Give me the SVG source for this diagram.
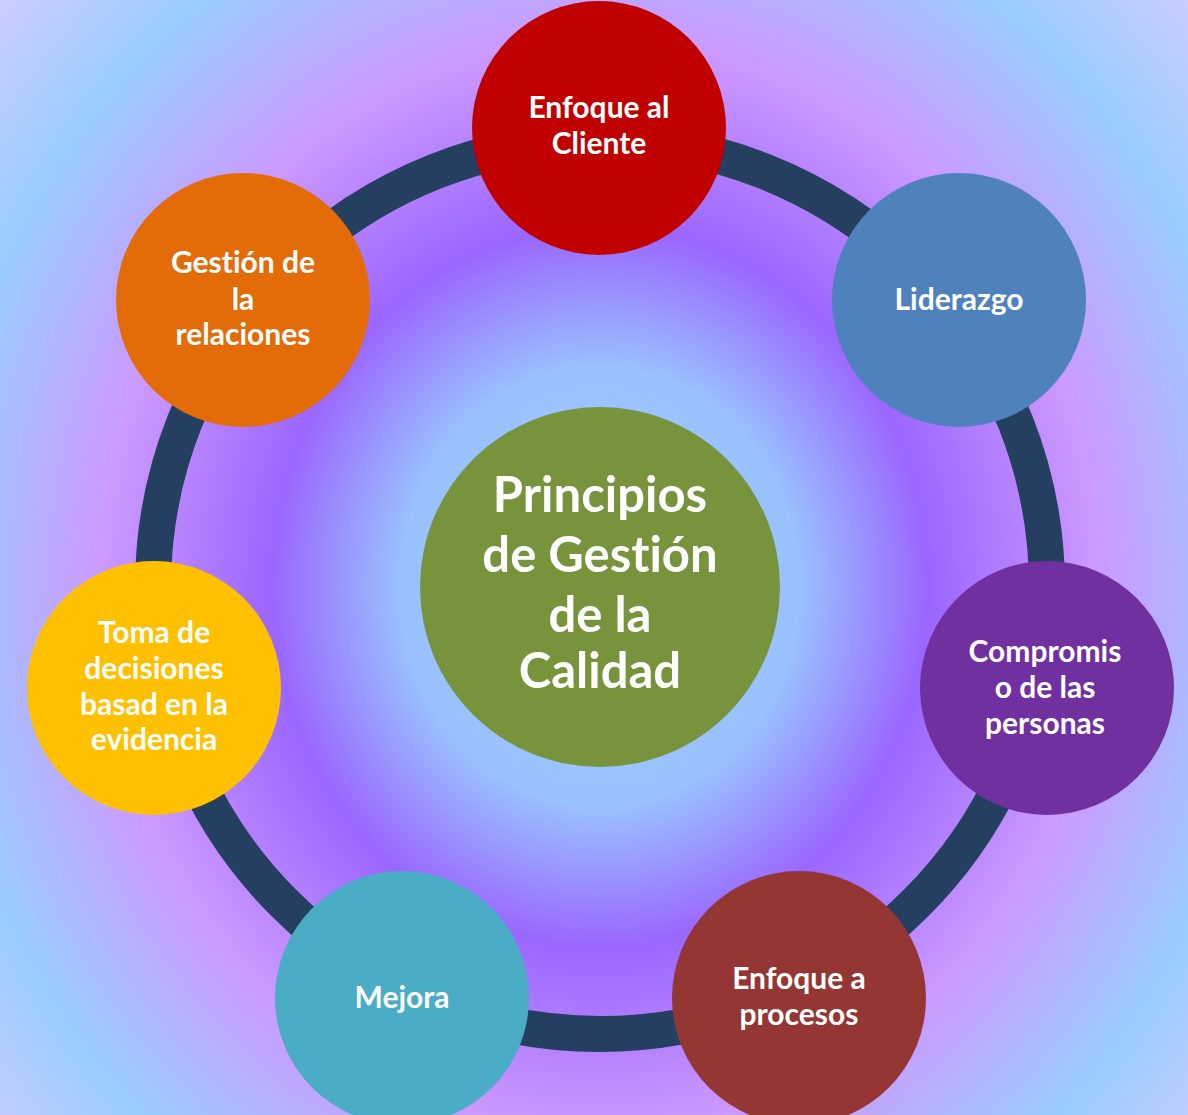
<svg xmlns="http://www.w3.org/2000/svg" width="1188" height="1115" viewBox="0 0 1188 1115">
  <defs>
    <radialGradient id="bg" gradientUnits="userSpaceOnUse" cx="600" cy="587" r="800" gradientTransform="translate(600 587) scale(1 1.1) translate(-600 -587)">
      <stop offset="0" stop-color="#9fd0ff"/>
      <stop offset="0.25" stop-color="#99c0ff"/>
      <stop offset="0.41" stop-color="#9a66ff"/>
      <stop offset="0.62" stop-color="#cc99ff"/>
      <stop offset="0.83" stop-color="#99ccff"/>
      <stop offset="1" stop-color="#ccccff"/>
    </radialGradient>
  </defs>
  <style>
    .lbl { font-family: Lato, "Liberation Sans", sans-serif; font-weight: bold; fill: #ffffff; text-anchor: middle; font-size: 30px; font-variant-ligatures: none; font-feature-settings: "liga" 0, "clig" 0; }
    .big { font-size: 49px; }
    .node { stroke: none; }
  </style>
  <rect x="0" y="0" width="1188" height="1115" fill="url(#bg)"/>
  <g id="connectors">
    <circle cx="600" cy="587" r="447" fill="none" stroke="#243f60" stroke-width="36"/>
  </g>
  <g id="center">
    <circle class="node" cx="600" cy="587" r="180" fill="#77933c"/>
    <text class="lbl big" x="600" y="512">Principios</text>
    <text class="lbl big" x="600" y="572">de Gestión</text>
    <text class="lbl big" x="600" y="632">de la</text>
    <text class="lbl big" x="600" y="688">Calidad</text>
  </g>
  <g id="cliente">
    <circle class="node" cx="599" cy="128" r="127" fill="#c00000"/>
    <text class="lbl" x="599" y="118">Enfoque al</text>
    <text class="lbl" x="599" y="154">Cliente</text>
  </g>
  <g id="liderazgo">
    <circle class="node" cx="959" cy="300" r="127" fill="#4f81bd"/>
    <text class="lbl" x="959" y="310">Liderazgo</text>
  </g>
  <g id="compromiso">
    <circle class="node" cx="1047" cy="688" r="127" fill="#7030a0"/>
    <text class="lbl" x="1045" y="662">Compromis</text>
    <text class="lbl" x="1045" y="698">o de las</text>
    <text class="lbl" x="1045" y="734">personas</text>
  </g>
  <g id="procesos">
    <circle class="node" cx="799" cy="998" r="127" fill="#943634"/>
    <text class="lbl" x="799" y="989">Enfoque a</text>
    <text class="lbl" x="799" y="1025">procesos</text>
  </g>
  <g id="mejora">
    <circle class="node" cx="402" cy="998" r="127" fill="#4bacc6"/>
    <text class="lbl" x="402" y="1008">Mejora</text>
  </g>
  <g id="decisiones">
    <circle class="node" cx="154" cy="688" r="127" fill="#ffc000"/>
    <text class="lbl" x="154" y="643">Toma de</text>
    <text class="lbl" x="154" y="679">decisiones</text>
    <text class="lbl" x="154" y="715">basad en la</text>
    <text class="lbl" x="154" y="750">evidencia</text>
  </g>
  <g id="relaciones">
    <circle class="node" cx="243" cy="300" r="127" fill="#e36c09"/>
    <text class="lbl" x="243" y="273">Gestión de</text>
    <text class="lbl" x="243" y="310">la</text>
    <text class="lbl" x="243" y="345">relaciones</text>
  </g>
</svg>
